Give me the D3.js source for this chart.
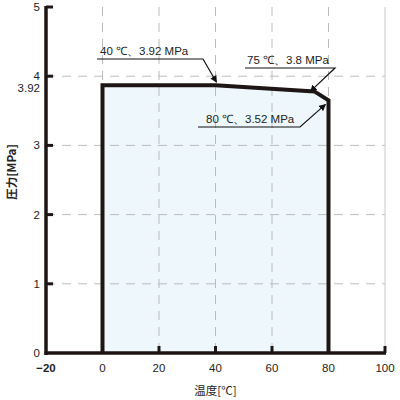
<!DOCTYPE html>
<meta charset="utf-8">
<head>
<style>
body { margin: 0; background: #fff; }
text { font-family: "Liberation Sans", Arial, sans-serif; fill: #222; }
.jp { font-family: "Noto Sans CJK JP", sans-serif; }
</style>
</head>
<body>
<svg width="400" height="400"></svg>
<script src="https://d3js.org/d3.v7.min.js"></script>
<script>

// outline of the operating range (temperature ℃, pressure MPa)
var temps = [0, 0, 40, 75, 80, 80];
var pressures = [0, 3.87, 3.87, 3.78, 3.65, 0];

var xTicks = [-20, 0, 20, 40, 60, 80, 100];
var yTicks = [0, 1, 2, 3, 4, 5];
var gridX = [0, 20, 40, 60, 80];
var gridY = [1, 2, 3, 4];

var noteLabels = ["40 ℃、3.92 MPa", "75 ℃、3.8 MPa", "80 ℃、3.52 MPa"];
var noteTemps = [40, 75, 80];
var notePressures = [3.87, 3.78, 3.65];

var svg = d3.select("svg");

var x = d3.scaleLinear().domain([-20, 100]).range([46, 385]);
var y = d3.scaleLinear().domain([0, 5]).range([353, 7]);

svg.append("defs").append("marker")
    .attr("id", "arrow")
    .attr("viewBox", "0 0 10 10")
    .attr("refX", 9).attr("refY", 5)
    .attr("markerWidth", 7).attr("markerHeight", 7)
    .attr("markerUnits", "userSpaceOnUse")
    .attr("orient", "auto")
  .append("path")
    .attr("d", "M0,0L10,5L0,10z")
    .attr("fill", "#111");

// fill
var pts = temps.map(function(t, i) { return [x(t), y(pressures[i])]; });
svg.append("path")
    .attr("d", d3.line()(pts) + "Z")
    .attr("fill", "#edf7fc");

// grid
svg.selectAll(".gx").data(gridX).enter().append("line")
    .attr("x1", d => x(d)).attr("x2", d => x(d))
    .attr("y1", y(5)).attr("y2", y(0))
    .attr("stroke", "#bbb").attr("stroke-width", 1)
    .attr("stroke-dasharray", "9,7");
svg.selectAll(".gy").data(gridY).enter().append("line")
    .attr("x1", x(-20)).attr("x2", x(100))
    .attr("y1", d => y(d)).attr("y2", d => y(d))
    .attr("stroke", "#bbb").attr("stroke-width", 1)
    .attr("stroke-dasharray", "9,7");
svg.append("line")
    .attr("x1", x(100)).attr("x2", x(100))
    .attr("y1", y(5)).attr("y2", y(0))
    .attr("stroke", "#c8c8c8").attr("stroke-width", 1);

// outline
svg.append("path")
    .attr("d", d3.line()(pts))
    .attr("fill", "none")
    .attr("stroke", "#1e1614")
    .attr("stroke-width", 4);

// axes
svg.append("line")
    .attr("x1", x(-20)).attr("x2", x(-20))
    .attr("y1", y(5) - 1).attr("y2", y(0) + 2)
    .attr("stroke", "#1e1614").attr("stroke-width", 3.5);
svg.append("line")
    .attr("x1", x(-20) - 1.5).attr("x2", x(100) + 1)
    .attr("y1", y(0)).attr("y2", y(0))
    .attr("stroke", "#1e1614").attr("stroke-width", 3.5);

svg.selectAll(".ty").data(yTicks.filter(d => d > 0)).enter().append("line")
    .attr("x1", x(-20)).attr("x2", x(-20) + 7)
    .attr("y1", d => y(d)).attr("y2", d => y(d))
    .attr("stroke", "#1e1614").attr("stroke-width", 3);
svg.selectAll(".tx").data([20, 40, 60, 100]).enter().append("line")
    .attr("x1", d => x(d)).attr("x2", d => x(d))
    .attr("y1", y(0)).attr("y2", y(0) - 7)
    .attr("stroke", "#1e1614").attr("stroke-width", 3);

// tick labels
svg.selectAll(".ly").data(yTicks).enter().append("text")
    .attr("x", 40).attr("y", d => y(d) + 4)
    .attr("text-anchor", "end")
    .attr("font-size", 11.5)
    .text(d => d);
svg.append("text")
    .attr("x", 40).attr("y", y(3.92) + 10)
    .attr("text-anchor", "end")
    .attr("font-size", 11.5)
    .text("3.92");
svg.selectAll(".lx").data(xTicks).enter().append("text")
    .attr("x", d => x(d)).attr("y", 372)
    .attr("text-anchor", "middle")
    .attr("font-size", 11.5)
    .attr("font-weight", d => d < 0 ? "bold" : "normal")
    .text(d => d < 0 ? "\u2212" + (-d) : d);

// axis titles
svg.append("text")
    .attr("class", "jp")
    .attr("x", (x(-20) + x(100)) / 2).attr("y", 395)
    .attr("text-anchor", "middle")
    .attr("font-size", 11.5)
    .text("温度[℃]");
svg.append("text")
    .attr("class", "jp")
    .attr("transform", "translate(16,172) rotate(-90)")
    .attr("text-anchor", "middle")
    .attr("font-size", 11.5)
    .attr("font-weight", "bold")
    .text("圧力[MPa]");

// annotations: text start, underline span, and arrow tip offset
var noteLayout = [
  {tx: 100, ty: 55, ux1: 97, ux2: 203, uy: 59, dx: 1, dy: -3},
  {tx: 247, ty: 64, ux1: 245, ux2: 335, uy: 68, dx: -4, dy: 0},
  {tx: 206, ty: 123, ux1: 198, ux2: 300, uy: 127, dx: -3, dy: 4}
];

noteLabels.forEach(function(label, i) {
  var L = noteLayout[i];
  var px = x(noteTemps[i]) + L.dx, py = y(notePressures[i]) + L.dy;
  svg.append("text")
      .attr("x", L.tx).attr("y", L.ty)
      .attr("font-size", 11.5)
      .text(label);
  svg.append("path")
      .attr("d", "M" + L.ux1 + "," + L.uy + "L" + L.ux2 + "," + L.uy + "L" + px + "," + py)
      .attr("fill", "none")
      .attr("stroke", "#111")
      .attr("stroke-width", 1.2)
      .attr("marker-end", "url(#arrow)");
});

</script>
</body>
</html>
